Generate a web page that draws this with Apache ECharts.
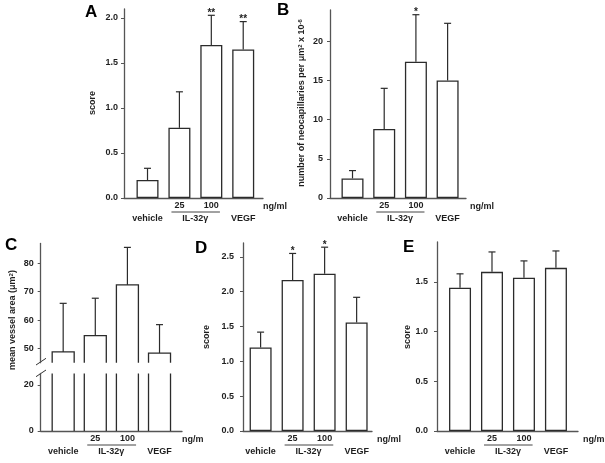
<!DOCTYPE html>
<html><head><meta charset="utf-8">
<script src="https://cdn.jsdelivr.net/npm/echarts@6/dist/echarts.min.js"></script>
<style>html,body{margin:0;padding:0;background:#fff}#c{width:605px;height:463px}</style>
</head><body><div id="c"></div>
<script>
// ---------- data ----------
const groupPos = [0, 1, 2, 3];            // vehicle, IL-32γ 25, IL-32γ 100, VEGF
const doseLabels = ['25', '100'];
const dosePos = [1, 2];
const groupLabels = ['vehicle', 'IL-32γ', 'VEGF'];
const groupLabelPos = [0, 1.5, 3];

const A_mean = [0.20, 0.78, 1.70, 1.65];
const A_err  = [0.13, 0.40, 0.33, 0.31];
const A_sig  = ['', '', '**', '**'];
const A_ticks = [0, 0.5, 1.0, 1.5, 2.0];

const B_mean = [2.5, 8.8, 17.4, 15.0];
const B_err  = [1.0, 5.2, 6.0, 7.3];
const B_sig  = ['', '', '*', ''];
const B_ticks = [0, 5, 10, 15, 20];

const C_mean = [48.8, 54.5, 72.4, 48.4];
const C_err  = [17.1, 13.2, 13.2, 10.0];
const C_sig  = ['', '', '', ''];
const C_ticksUpper = [50, 60, 70, 80];
const C_ticksLower = [0, 20];

const D_mean = [1.20, 2.17, 2.26, 1.56];
const D_err  = [0.22, 0.38, 0.38, 0.36];
const D_sig  = ['', '*', '*', ''];
const D_ticks = [0, 0.5, 1.0, 1.5, 2.0, 2.5];

const E_mean = [1.44, 1.60, 1.54, 1.64];
const E_err  = [0.14, 0.20, 0.17, 0.17];
const E_sig  = ['', '', '', ''];
const E_ticks = [0, 0.5, 1.0, 1.5];

// ---------- layout ----------
const FONT = '"Liberation Sans", Arial, Helvetica, sans-serif';
const INK = '#1e1e1e';
const AX = '#555';
const grids = [
  {left:124,  top:9,     width:139,   height:189,   xMin:-0.737, xMax:3.62, yMin:0,  yMax:2.1,  ticks:A_ticks, dec:1, margin:6, labels:true},   // A
  {left:330,  top:10,    width:136,   height:188,   xMin:-0.71,  xMax:3.58, yMin:0,  yMax:24,   ticks:B_ticks, dec:0, margin:7, labels:true},   // B
  {left:40.7, top:243.4, width:141.3, height:119.3, xMin:-0.70,  xMax:3.70, yMin:45, yMax:87,   ticks:C_ticksUpper, dec:0, margin:7, labels:false, hideX:true}, // C upper
  {left:40.7, top:373.5, width:141.3, height:57.5,  xMin:-0.70,  xMax:3.70, yMin:0,  yMax:25,   ticks:C_ticksLower, dec:0, margin:7, labels:true},  // C lower
  {left:243,  top:243,   width:129,   height:188,   xMin:-0.55,  xMax:3.48, yMin:0,  yMax:2.7,  ticks:D_ticks, dec:1, margin:9, labels:true},   // D
  {left:437,  top:242,   width:141,   height:189,   xMin:-0.72,  xMax:3.69, yMin:0,  yMax:1.9,  ticks:E_ticks, dec:1, margin:9, labels:true}    // E
];

const gridOpt = grids.map(g => ({left:g.left, top:g.top, width:g.width, height:g.height, containLabel:false}));
const xAxes = [], yAxes = [];
grids.forEach((g, i) => {
  xAxes.push({
    type:'value', gridIndex:i, min:g.xMin, max:g.xMax, position:'bottom',
    axisLine:{show:!g.hideX, onZero:false, lineStyle:{color:AX, width:1.3}},
    axisTick:{show:false}, splitLine:{show:false},
    axisLabel:{show:g.labels, customValues:dosePos, margin:3, hideOverlap:false,
      formatter:v => doseLabels[dosePos.indexOf(v)] || '',
      fontFamily:FONT, fontWeight:'bold', fontSize:9, color:INK}
  });
  yAxes.push({
    type:'value', gridIndex:i, min:g.yMin, max:g.yMax, position:'left',
    axisLine:{show:true, onZero:false, lineStyle:{color:AX, width:1.3}},
    axisTick:{show:true, length:3, customValues:g.ticks, lineStyle:{color:AX, width:1}},
    splitLine:{show:false},
    axisLabel:{customValues:g.ticks, margin:g.margin, hideOverlap:false,
      formatter:v => v.toFixed(g.dec), fontFamily:FONT, fontWeight:'bold', fontSize:9, color:INK}
  });
});
// second row of x labels
grids.forEach((g, i) => {
  if (!g.labels) return;
  xAxes.push({
    type:'value', gridIndex:i, min:g.xMin, max:g.xMax, position:'bottom',
    axisLine:{show:false, onZero:false}, axisTick:{show:false}, splitLine:{show:false},
    axisLabel:{customValues:groupLabelPos, margin:16, hideOverlap:false,
      formatter:v => groupLabels[groupLabelPos.indexOf(v)] || '',
      fontFamily:FONT, fontWeight:'bold', fontSize:9, color:INK}
  });
});

const barStyle = {color:'#fff', borderColor:'#2b2b2b', borderWidth:1.3};
function errSeries(idx, mean, err, sig) {
  return {
    type:'custom', xAxisIndex:idx, yAxisIndex:idx, clip:false, silent:true,
    data: groupPos.map((x, i) => [x, mean[i], err[i]]),
    renderItem(params, api) {
      const x = api.value(0), m = api.value(1), e = api.value(2);
      const p0 = api.coord([x, m]), p1 = api.coord([x, m + e]);
      const st = {stroke:'#2b2b2b', lineWidth:1.2};
      const ch = [
        {type:'line', shape:{x1:p0[0], y1:p0[1], x2:p1[0], y2:p1[1]}, style:st},
        {type:'line', shape:{x1:p1[0]-3.5, y1:p1[1], x2:p1[0]+3.5, y2:p1[1]}, style:st}
      ];
      const s = sig[params.dataIndex];
      if (s) ch.push({type:'text', style:{text:s, x:p1[0], y:p1[1]+3, align:'center', verticalAlign:'bottom',
        font:'bold 10px ' + FONT, fill:INK}});
      return {type:'group', children:ch};
    }
  };
}
function barSeries(idx, mean) {
  return {type:'bar', xAxisIndex:idx, yAxisIndex:idx, barWidth:22, silent:true,
    itemStyle:barStyle, data: groupPos.map((x, i) => [x, mean[i]])};
}
// broken-axis bars for C
function cBars(idx, mean, upper) {
  return {
    type:'custom', xAxisIndex:idx, yAxisIndex:idx, clip:false, silent:true,
    data: groupPos.map((x, i) => [x, mean[i]]),
    renderItem(params, api) {
      const x = api.value(0), m = api.value(1);
      const cs = params.coordSys;
      const hw = 11;
      const st = {stroke:'#2b2b2b', lineWidth:1.3, fill:null};
      const cx = api.coord([x, 0])[0];
      if (upper) {
        const yt = api.coord([x, m])[1], yb = cs.y + cs.height;
        return {type:'polyline', shape:{points:[[cx-hw, yb],[cx-hw, yt],[cx+hw, yt],[cx+hw, yb]]}, style:st};
      }
      const yb = api.coord([x, 0])[1], yt = cs.y;
      return {type:'group', children:[
        {type:'line', shape:{x1:cx-hw, y1:yb, x2:cx-hw, y2:yt}, style:st},
        {type:'line', shape:{x1:cx+hw, y1:yb, x2:cx+hw, y2:yt}, style:st}
      ]};
    }
  };
}

const series = [
  barSeries(0, A_mean), errSeries(0, A_mean, A_err, A_sig),
  barSeries(1, B_mean), errSeries(1, B_mean, B_err, B_sig),
  cBars(2, C_mean, true), cBars(3, C_mean, false), errSeries(2, C_mean, C_err, C_sig),
  barSeries(4, D_mean), errSeries(4, D_mean, D_err, D_sig),
  barSeries(5, E_mean), errSeries(5, E_mean, E_err, E_sig)
];

const chart = echarts.init(document.getElementById('c'), null, {renderer:'canvas', width:605, height:463});
chart.setOption({
  backgroundColor:'#fff', animation:false,
  grid:gridOpt, xAxis:xAxes, yAxis:yAxes, series:series
});

// ---------- annotations (text) ----------
const g = [];
const letter = (t, x, y) => g.push({type:'text', x, y, style:{text:t, font:'bold 17px ' + FONT, fill:'#000', align:'left', verticalAlign:'top'}});
letter('A', 85, 4); letter('B', 277, 2); letter('C', 5, 237); letter('D', 195, 240); letter('E', 403, 239);

const yname = (t, x, y, rich) => g.push({type:'text', x, y, rotation:Math.PI/2,
  style:{text:t, font:'bold 9px ' + FONT, fontFamily:FONT, fontWeight:'bold', fontSize:9, fill:INK, align:'center', verticalAlign:'middle', rich:rich || {}}});
const sup = {sup:{fontSize:6, fontWeight:'bold', fontFamily:FONT, verticalAlign:'top', fill:INK}};
yname('score', 93, 103);
yname('number of neocapillaries per μm{sup|2} x 10{sup|-6}', 302, 103, sup);
yname('mean vessel area (μm{sup|2})', 13, 320, sup);
yname('score', 207, 337);
yname('score', 408, 337);

// underline under dose labels, unit label, broken-axis marks
const unitTxt = ['ng/ml', 'ng/ml', null, 'ng/m', 'ng/ml', 'ng/ml'];
const unitDx = [0, 4, 0, 0, 5, 5];
grids.forEach((gr, i) => {
  if (!gr.labels) return;
  const y0 = chart.convertToPixel({yAxisIndex:i}, 0);
  const xa = chart.convertToPixel({xAxisIndex:i}, 0.75);
  const xb = chart.convertToPixel({xAxisIndex:i}, 2.27);
  g.push({type:'line', shape:{x1:xa, y1:y0+14, x2:xb, y2:y0+14}, style:{stroke:'#444', lineWidth:1}});
  const xe = chart.convertToPixel({xAxisIndex:i}, gr.xMax);
  g.push({type:'text', x:xe + unitDx[i], y:y0 + 8.5, style:{text:unitTxt[i], font:'bold 9px ' + FONT, fill:INK, align:'left', verticalAlign:'middle'}});
});
const pu = chart.convertToPixel({gridIndex:2}, [grids[2].xMin, grids[2].yMin]);
const pl = chart.convertToPixel({gridIndex:3}, [grids[3].xMin, grids[3].yMax]);
g.push({type:'line', shape:{x1:pu[0]-4.7, y1:pu[1]+2.3, x2:pu[0]+5.3, y2:pu[1]-4.4}, style:{stroke:'#333', lineWidth:1}});
g.push({type:'line', shape:{x1:pl[0]-4.7, y1:pl[1]+3.2, x2:pl[0]+5.3, y2:pl[1]-3.5}, style:{stroke:'#333', lineWidth:1}});

chart.setOption({graphic:{elements:g}});
</script>
</body></html>
